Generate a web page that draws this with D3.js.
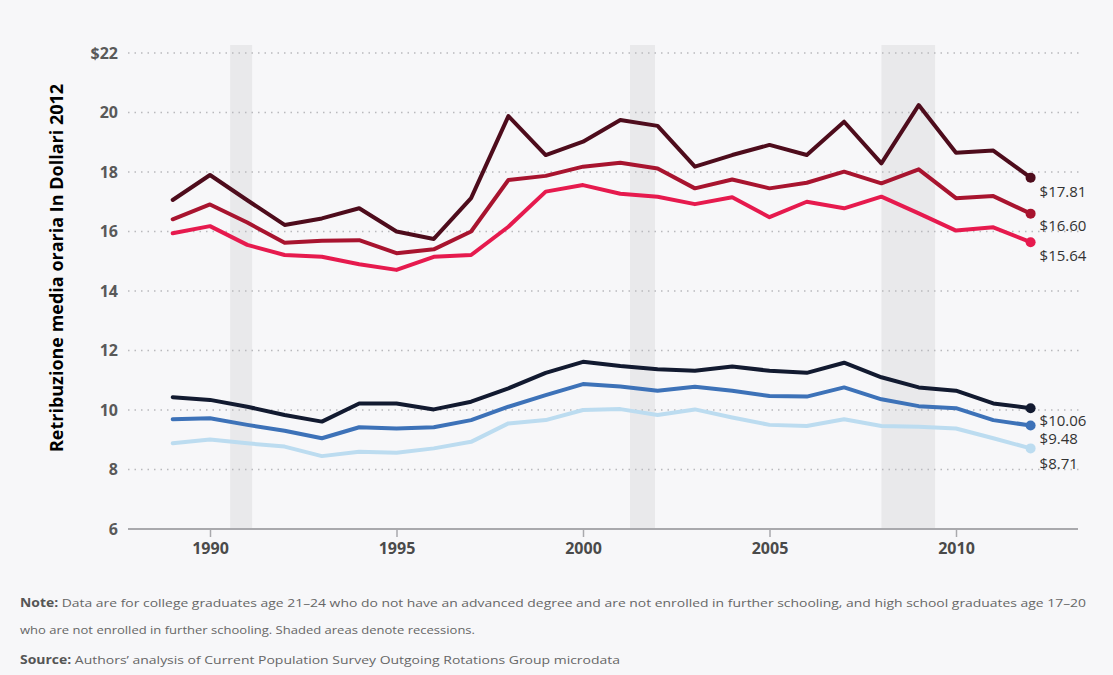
<!DOCTYPE html>
<html><head><meta charset="utf-8">
<script src="https://cdn.jsdelivr.net/npm/d3@7"></script>
<style>
html,body{margin:0;padding:0;background:#f7f7f9;}
svg{display:block;font-family:"Open Sans","Noto Sans",sans-serif;}
</style></head>
<body><svg id="c" width="1113" height="675"></svg>
<script>
const years = d3.range(1989, 2013);
const topSeries  = [17.06,17.90,17.05,16.22,16.44,16.78,16.00,15.75,17.12,19.88,18.57,19.02,19.75,19.55,18.18,18.57,18.91,18.57,19.69,18.29,20.25,18.65,18.72,17.81];
const midSeries  = [16.41,16.91,16.30,15.62,15.69,15.71,15.27,15.40,16.00,17.73,17.87,18.18,18.31,18.12,17.45,17.75,17.45,17.64,18.01,17.62,18.09,17.12,17.19,16.60];
const lowSeries  = [15.94,16.18,15.55,15.21,15.15,14.90,14.71,15.15,15.21,16.16,17.34,17.56,17.27,17.17,16.92,17.15,16.48,17.00,16.78,17.17,16.61,16.03,16.14,15.64];
const navySeries = [10.43,10.34,10.11,9.83,9.61,10.22,10.22,10.02,10.28,10.73,11.25,11.62,11.48,11.37,11.32,11.46,11.32,11.25,11.59,11.10,10.76,10.65,10.22,10.06];
const blueSeries = [9.69,9.72,9.50,9.30,9.05,9.42,9.38,9.42,9.66,10.11,10.50,10.87,10.79,10.65,10.78,10.65,10.47,10.45,10.76,10.36,10.13,10.06,9.66,9.48];
const lightSeries= [8.88,9.01,8.88,8.77,8.45,8.60,8.56,8.71,8.93,9.55,9.66,10.00,10.03,9.83,10.02,9.75,9.50,9.46,9.69,9.46,9.44,9.38,9.05,8.71];
const endLabels = ["$17.81","$16.60","$15.64","$10.06","$9.48","$8.71"];
const yTicks = [6,8,10,12,14,16,18,20,22];
const xTicks = [1990,1995,2000,2005,2010];
const recessions = [[1990.54,1991.13],[2001.26,2001.93],[2008.0,2009.44]];
const colors = ["#4e0c1c","#a8142f","#e61a4e","#121a30","#3d72b8","#bcdcf0"];
const labelDy = [14,12,13,12,13,15];
const yLabel = "Retribuzione media oraria In Dollari 2012";
const notes = [
 ["Note:"," Data are for college graduates age 21–24 who do not have an advanced degree and are not enrolled in further schooling, and high school graduates age 17–20"],
 [""," who are not enrolled in further schooling. Shaded areas denote recessions."],
 ["Source:"," Authors’ analysis of Current Population Survey Outgoing Rotations Group microdata"]
];

const svg = d3.select("#c");
const x = d3.scaleLinear().domain([1989,2012]).range([172.7,1030.6]);
const y = d3.scaleLinear().domain([6,22]).range([529,53]);

// recession bands
svg.append("g").selectAll("rect").data(recessions).join("rect")
  .attr("x",d=>x(d[0])).attr("width",d=>x(d[1])-x(d[0]))
  .attr("y",45).attr("height",529-45).attr("fill","#e9e9eb");

// grid
svg.append("g").selectAll("line").data(yTicks.filter(t=>t>6)).join("line")
  .attr("x1",128).attr("x2",1082).attr("y1",d=>y(d)).attr("y2",d=>y(d))
  .attr("stroke","#b9b9bd").attr("stroke-width",1.5).attr("stroke-dasharray","1.5,5");

// y axis labels
const yAxis = d3.axisLeft(y).tickValues(yTicks).tickSize(0).tickPadding(0)
  .tickFormat(d=>d===22?"$22":d);
const gy = svg.append("g").attr("transform","translate(118,0)").call(yAxis);
gy.select(".domain").remove();
gy.selectAll("text").attr("font-size",16).attr("font-weight",700).attr("fill","#595959")
  .attr("font-family","'Open Sans',sans-serif");

// x axis
const xAxis = d3.axisBottom(x).tickValues(xTicks).tickSize(8).tickPadding(6).tickFormat(d3.format("d"));
const gx = svg.append("g").attr("transform","translate(0,529)").call(xAxis);
gx.select(".domain").remove();
gx.append("line").attr("x1",128).attr("x2",1078).attr("stroke","#a9a9ad").attr("stroke-width",2);
gx.selectAll(".tick line").attr("stroke","#a9a9ad").attr("stroke-width",1.5);
gx.selectAll("text").attr("font-size",16).attr("font-weight",700).attr("fill","#4a4a4a")
  .attr("font-family","'Open Sans',sans-serif");

// lines
const allSeries = [topSeries,midSeries,lowSeries,navySeries,blueSeries,lightSeries];
const line = d3.line().x((d,i)=>x(years[i])).y(d=>y(d));
const gl = svg.append("g");
allSeries.slice().reverse().forEach((s,ri)=>{
  const i = allSeries.length-1-ri;
  gl.append("path").attr("d",line(s)).attr("fill","none").attr("stroke",colors[i])
    .attr("stroke-width",4).attr("stroke-linejoin","round").attr("stroke-linecap","round");
  gl.append("circle").attr("cx",x(2012)).attr("cy",y(s[s.length-1])).attr("r",5).attr("fill",colors[i]);
});

// end labels
svg.append("g").selectAll("text").data(allSeries).join("text")
  .attr("x",x(2012)+9).attr("y",(d,i)=>y(d[d.length-1])+labelDy[i]+5.5)
  .attr("font-size",15).attr("fill","#333")
  .attr("font-family","'Open Sans',sans-serif")
  .text((d,i)=>endLabels[i]);

// y title
svg.append("text").attr("transform","translate(63,268) rotate(-90)")
  .attr("text-anchor","middle").attr("font-size",18).attr("font-weight",700).attr("fill","#000")
  .attr("font-family","'Open Sans',sans-serif").text(yLabel);

// notes
const ny = [607,634,664];
notes.forEach((n,i)=>{
  const t = svg.append("text").attr("x",20).attr("y",ny[i]).attr("font-size",11.5).attr("fill","#666")
    .attr("font-family","'Open Sans',sans-serif");
  if(n[0]) t.append("tspan").attr("font-weight",700).attr("fill","#555").text(n[0]);
  t.append("tspan").text(n[1]);
  if(i===0) t.attr("textLength",1066).attr("lengthAdjust","spacingAndGlyphs");
  if(i===2) t.attr("textLength",600).attr("lengthAdjust","spacingAndGlyphs");
  if(i===1) t.attr("textLength",455).attr("lengthAdjust","spacingAndGlyphs");
});
</script></body></html>
